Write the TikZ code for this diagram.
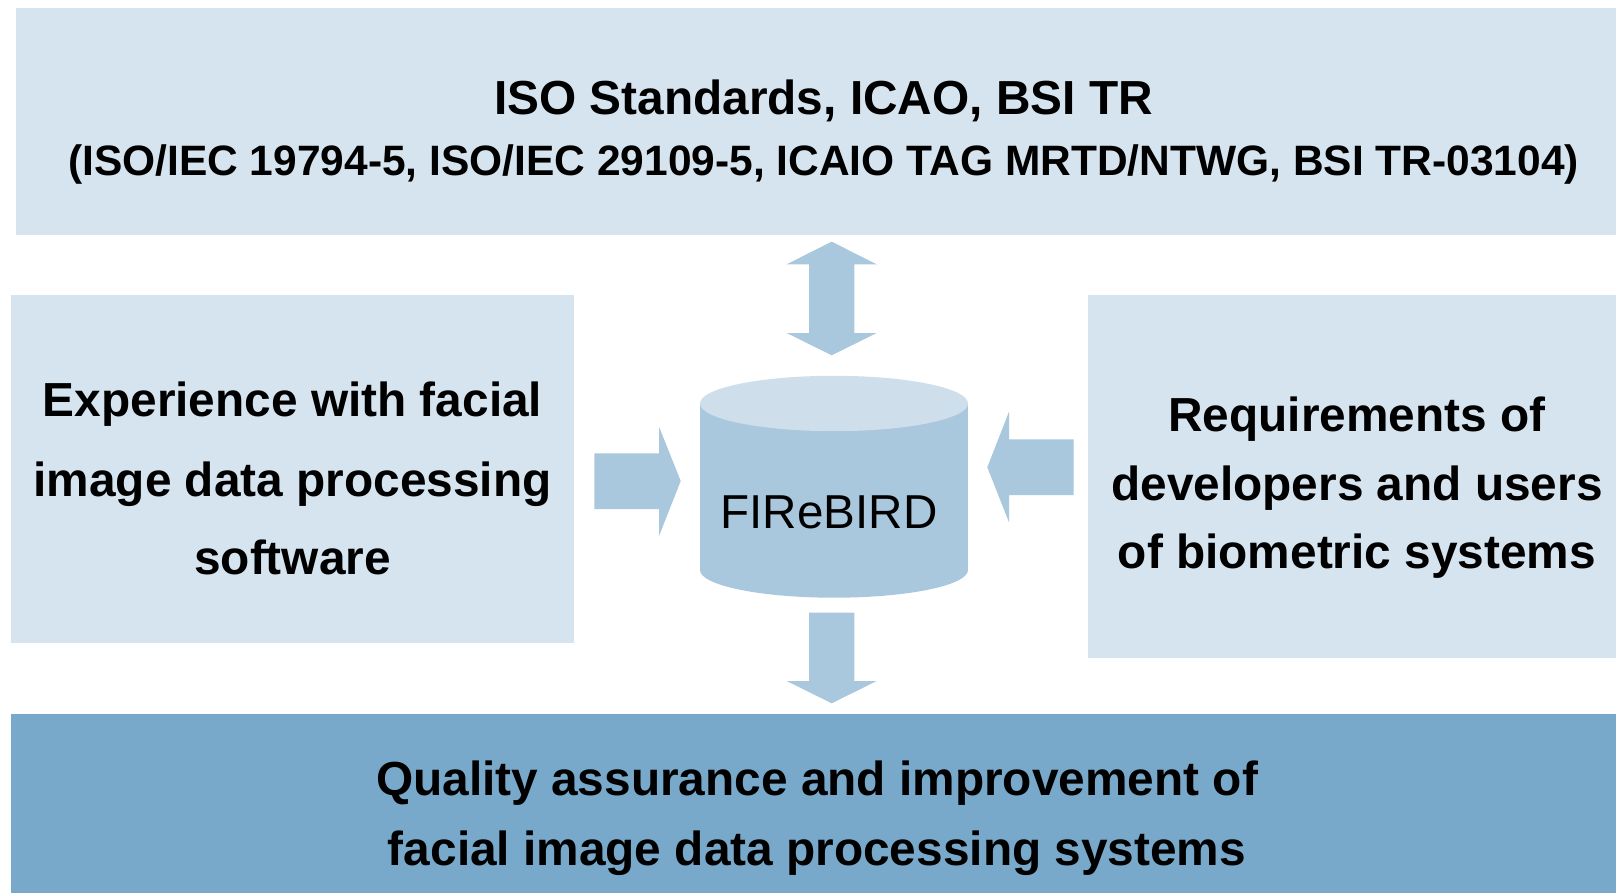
\documentclass[tikz,border=0pt]{standalone}
\usepackage{fontspec}
\setmainfont{Liberation Sans}
\definecolor{boxlight}{HTML}{D6E4EF}
\definecolor{arrowblue}{HTML}{A9C7DD}
\definecolor{cyltop}{HTML}{CFDEEB}
\definecolor{boxdark}{HTML}{78A9CB}
\tikzset{
  lightbox/.style={fill=boxlight, draw=none},
  darkbox/.style={fill=boxdark, draw=none},
  blockarrow/.style={fill=arrowblue, draw=none},
  bigtext/.style={anchor=base, inner sep=0pt, font=\bfseries\fontsize{47.8}{50}\selectfont},
  subtext/.style={anchor=base, inner sep=0pt, font=\bfseries\fontsize{42.5}{45}\selectfont},
  dbtext/.style={anchor=base, inner sep=0pt, font=\fontsize{47.6}{50}\selectfont}
}
\begin{document}
\begin{tikzpicture}[x=1pt,y=-1pt]
\useasboundingbox[fill=white] (0,0) rectangle (1616,893);
% boxes
\path[lightbox] (15.5,7.7) rectangle (1616,235);
\path[lightbox] (11,295) rectangle (574,643);
\path[lightbox] (1088,295) rectangle (1616,658);
\path[darkbox] (11,714) rectangle (1616,893);
% top box text
\node[bigtext] (t1) at (823.5,115) {ISO Standards, ICAO, BSI TR};
\node[subtext] (t2) at (823.5,175.7) {(ISO/IEC 19794-5, ISO/IEC 29109-5, ICAIO TAG MRTD/NTWG, BSI TR-03104)};
% left box text
\node[bigtext] (l1) at (292.5,416.7) {Experience with facial};
\node[bigtext] (l2) at (292.5,496.2) {image data processing};
\node[bigtext] (l3) at (292.5,574.5) {software};
% right box text
\node[bigtext] (r1) at (1357,431.7) {Requirements of};
\node[bigtext] (r2) at (1357,500) {developers and users};
\node[bigtext] (r3) at (1357,568.3) {of biometric systems};
% bottom box text
\node[bigtext] (b1) at (817,795) {Quality assurance and improvement of};
\node[bigtext] (b2) at (817,865) {facial image data processing systems};
% cylinder
\fill[arrowblue] (700,403.5) rectangle (968,570);
\fill[arrowblue] (834,570) ellipse [x radius=134, y radius=27.7];
\fill[cyltop] (834,403.5) ellipse [x radius=134, y radius=27.7];
\node[dbtext] (db) at (829,528.3) {FIReBIRD};
% top double arrow
\path[blockarrow] (831.7,241.7) -- (876.7,264.3) -- (854.3,264.3) -- (854.3,333) -- (876.7,333)
  -- (831.7,355.3) -- (786.7,333) -- (809,333) -- (809,264.3) -- (786.7,264.3) -- cycle;
% bottom arrow
\path[blockarrow] (809,612.7) -- (854.3,612.7) -- (854.3,681) -- (876.7,681) -- (831.7,703.3)
  -- (786.7,681) -- (809,681) -- cycle;
% left arrow
\path[blockarrow] (594.3,453.3) -- (659,453.3) -- (659,426.7) -- (680.7,481) -- (659,536)
  -- (659,509) -- (594.3,509) -- cycle;
% right arrow
\path[blockarrow] (1073.7,439.3) -- (1009,439.3) -- (1009,411.7) -- (987.3,467.3) -- (1009,522.3)
  -- (1009,495) -- (1073.7,495) -- cycle;
\end{tikzpicture}
\end{document}
